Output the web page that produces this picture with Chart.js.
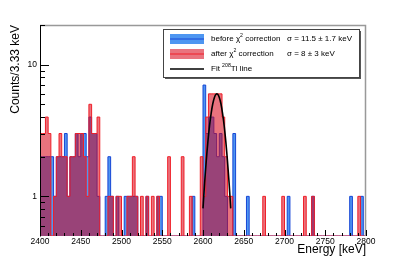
<!DOCTYPE html>
<html>
<head>
<meta charset="utf-8">
<script src="https://cdn.jsdelivr.net/npm/chart.js@4.4.1/dist/chart.umd.min.js"></script>
<style>
  html, body { margin: 0; padding: 0; background: #fff; }
  #wrap { width: 407px; height: 260px; }
</style>
</head>
<body>
<div id="wrap"><canvas id="spectrum" width="407" height="260"></canvas></div>
<script>
// Energy spectrum near the 208Tl line, 120 bins of 3.33 keV from 2400 to 2800 keV
var binStart = 2400;
var binWidth = 400 / 120;

// counts per bin before the chi2 correction
var countsBefore = [
  2,2,2,2,2,1,2,2,2,3,  1,2,2,3,2,3,3,2,4,3,
  3,1,0,0,1,2,1,0,1,0,  0,1,1,1,1,1,0,0,0,1,
  0,0,0,1,1,0,0,0,0,0,  0,0,0,0,0,0,1,0,0,0,
  7,3,4,4,3,2,3,2,1,0,  0,3,0,0,0,0,1,0,0,0,
  0,0,0,0,0,0,0,0,0,0,  0,1,0,0,0,0,0,0,0,0,
  1,0,0,0,0,0,0,0,0,0,  0,0,0,0,1,0,0,0,1,0
];

// counts per bin after the chi2 correction
var countsAfter = [
  3,3,4,3,0,1,2,3,2,2,  1,2,2,3,3,3,2,1,5,3,
  3,4,0,0,0,1,1,0,1,1,  0,0,1,1,2,1,0,1,0,1,
  0,1,0,1,0,0,0,2,0,0,  0,0,2,0,0,1,0,0,0,2,
  1,4,6,6,6,6,6,4,2,1,  1,0,0,0,0,0,0,0,0,0,
  0,0,1,0,0,0,0,0,0,1,  0,0,0,0,0,0,0,1,0,0,
  1,0,0,0,0,0,0,0,0,0,  0,0,0,0,0,0,0,1,0,0
];

// fitted 208Tl line
var fitEnergy = [2600, 2602, 2604, 2606, 2608, 2610, 2612, 2614, 2616, 2618, 2620, 2622, 2624, 2626, 2628, 2630, 2632, 2634];
var fitCounts = [0.81, 1.27, 1.86, 2.60, 3.43, 4.27, 5.05, 5.64, 5.96, 5.96, 5.64, 5.05, 4.27, 3.43, 2.60, 1.86, 1.27, 0.81];

var xTickValues = [2400, 2450, 2500, 2550, 2600, 2650, 2700, 2750, 2800];
var yTickLabels = [1, 10];
var yMinorTicks = [0.6, 0.7, 0.8, 0.9, 2, 3, 4, 5, 6, 7, 8, 9, 20];
var yMin = 0.5, yMax = 20;

var legendRows = [
  { label: [['before \u03c7'], ['2', true], [' correction']], sigma: '\u03c3 = 11.5 \u00b1 1.7 keV' },
  { label: [['after \u03c7'], ['2', true], [' correction']], sigma: '\u03c3 = 8 \u00b1 3 keV' },
  { label: [['Fit '], ['208', true], ['Tl line']], sigma: '' }
];

var FONT = "'Liberation Sans', Arial, sans-serif";
Chart.defaults.font.family = FONT;
Chart.defaults.color = '#000';

// step outline: one point per bin low edge, plus the closing edge.
// empty bins sit on the axis floor (log axis cannot take 0)
function toSteps(counts) {
  var pts = counts.map(function (c, i) { return { x: binStart + i * binWidth, y: c > 0 ? c : yMin }; });
  pts.push({ x: binStart + counts.length * binWidth, y: yMin });
  return pts;
}

function richText(ctx, parts, x, y, size) {
  parts.forEach(function (p) {
    var s = p[1] ? size * 0.65 : size;
    ctx.font = s + 'px ' + FONT;
    ctx.fillText(p[0], x, p[1] ? y - size * 0.4 : y);
    x += ctx.measureText(p[0]).width;
  });
}

// ROOT-like frame with inward ticks, and the legend box
var rootFrame = {
  id: 'rootFrame',
  afterDatasetsDraw: function (chart) {
    var ctx = chart.ctx, a = chart.chartArea, xs = chart.scales.x, ys = chart.scales.y;
    ctx.save();
    ctx.strokeStyle = '#999';
    ctx.lineWidth = 1.5;
    ctx.beginPath();
    ctx.moveTo(a.left, a.top + 0.5);
    ctx.lineTo(a.right - 0.5, a.top + 0.5);
    ctx.lineTo(a.right - 0.5, a.bottom);
    ctx.stroke();

    ctx.strokeStyle = '#000';
    ctx.lineWidth = 1;
    ctx.beginPath();
    ctx.moveTo(a.left + 0.5, a.top);
    ctx.lineTo(a.left + 0.5, a.bottom + 0.5);
    ctx.stroke();

    ctx.beginPath();
    for (var e = 2400; e <= 2800; e += 10) {
      var px = Math.round(xs.getPixelForValue(e)) + 0.5;
      var len = (e % 50 === 0) ? 6 : 3;
      ctx.moveTo(px, a.bottom);
      ctx.lineTo(px, a.bottom - len);
    }
    yTickLabels.forEach(function (v) {
      var py = Math.round(ys.getPixelForValue(v)) + 0.5;
      ctx.moveTo(a.left, py);
      ctx.lineTo(a.left + 9, py);
    });
    yMinorTicks.forEach(function (v) {
      var py = Math.round(ys.getPixelForValue(v)) + 0.5;
      ctx.moveTo(a.left, py);
      ctx.lineTo(a.left + 5, py);
    });
    ctx.stroke();
    ctx.restore();
  },
  afterDraw: function (chart) {
    var ctx = chart.ctx;
    var bx = 163, by = 29, bw = 196, bh = 48;
    ctx.save();
    ctx.fillStyle = '#555';
    ctx.fillRect(bx + 2, by + 2, bw, bh);
    ctx.fillStyle = '#fff';
    ctx.fillRect(bx, by, bw, bh);
    ctx.strokeStyle = '#444';
    ctx.lineWidth = 1;
    ctx.strokeRect(bx + 0.5, by + 0.5, bw, bh);

    var sw = [
      { fill: 'rgba(10,110,235,0.72)', line: '#1646d6' },
      { fill: 'rgba(215,0,20,0.55)', line: '#f01e28' },
      { fill: null, line: '#000' }
    ];
    ctx.textBaseline = 'middle';
    legendRows.forEach(function (row, i) {
      var cy = by + 10 + i * 15;
      if (sw[i].fill) {
        ctx.fillStyle = sw[i].fill;
        ctx.fillRect(170, cy - 5, 34, 10);
      }
      ctx.strokeStyle = sw[i].line;
      ctx.lineWidth = sw[i].fill ? 1 : 1.5;
      ctx.beginPath();
      ctx.moveTo(170, cy);
      ctx.lineTo(204, cy);
      ctx.stroke();
      ctx.fillStyle = '#000';
      richText(ctx, row.label, 211, cy, 8);
      if (row.sigma) {
        ctx.font = '8px ' + FONT;
        ctx.fillText(row.sigma, 287, cy);
      }
    });
    ctx.restore();
  }
};

var ctx = document.getElementById('spectrum');

var config = {
  type: 'line',
  data: {
    datasets: [
      {
        label: 'Fit 208Tl line',
        data: fitEnergy.map(function (e, i) { return { x: e, y: fitCounts[i] }; }),
        borderColor: '#000',
        borderWidth: 1.6,
        pointRadius: 0,
        fill: false,
        tension: 0.3,
        order: 0
      },
      {
        label: 'after chi2 correction',
        data: toSteps(countsAfter),
        stepped: true,
        borderColor: '#f01e28',
        borderWidth: 1,
        backgroundColor: 'rgba(215,0,20,0.55)',
        fill: 'start',
        pointRadius: 0,
        order: 1
      },
      {
        label: 'before chi2 correction',
        data: toSteps(countsBefore),
        stepped: true,
        borderColor: '#1646d6',
        borderWidth: 1,
        backgroundColor: 'rgba(10,110,235,0.72)',
        fill: 'start',
        pointRadius: 0,
        order: 2
      }
    ]
  },
  options: {
    responsive: false,
    devicePixelRatio: 1,
    animation: false,
    layout: { padding: { top: 25, right: 41, left: 0, bottom: 0 } },
    plugins: { legend: { display: false }, tooltip: { enabled: false } },
    scales: {
      x: {
        type: 'linear',
        min: 2400,
        max: 2800,
        afterFit: function (s) { s.height = 24; },
        afterBuildTicks: function (s) { s.ticks = xTickValues.map(function (v) { return { value: v }; }); },
        ticks: { font: { size: 8.5 }, padding: 1, maxRotation: 0, autoSkip: false, callback: function (v) { return String(v); } },
        grid: { display: false, drawTicks: false },
        border: { display: false },
        title: { display: true, text: 'Energy [keV]', align: 'end', font: { size: 12 }, padding: { top: 0, bottom: 3 } }
      },
      y: {
        type: 'logarithmic',
        min: yMin,
        max: yMax,
        afterFit: function (s) { s.width = 40; },
        afterBuildTicks: function (s) { s.ticks = yTickLabels.map(function (v) { return { value: v }; }); },
        ticks: { font: { size: 8.5 }, padding: 3, callback: function (v) { return String(v); } },
        grid: { display: false, drawTicks: false },
        border: { display: false },
        title: { display: true, text: 'Counts/3.33 keV', align: 'end', font: { size: 12 }, padding: { top: 8, bottom: 0 } }
      }
    }
  },
  plugins: [rootFrame]
};

var spectrumChart = new Chart(ctx, config);
</script>
</body>
</html>
